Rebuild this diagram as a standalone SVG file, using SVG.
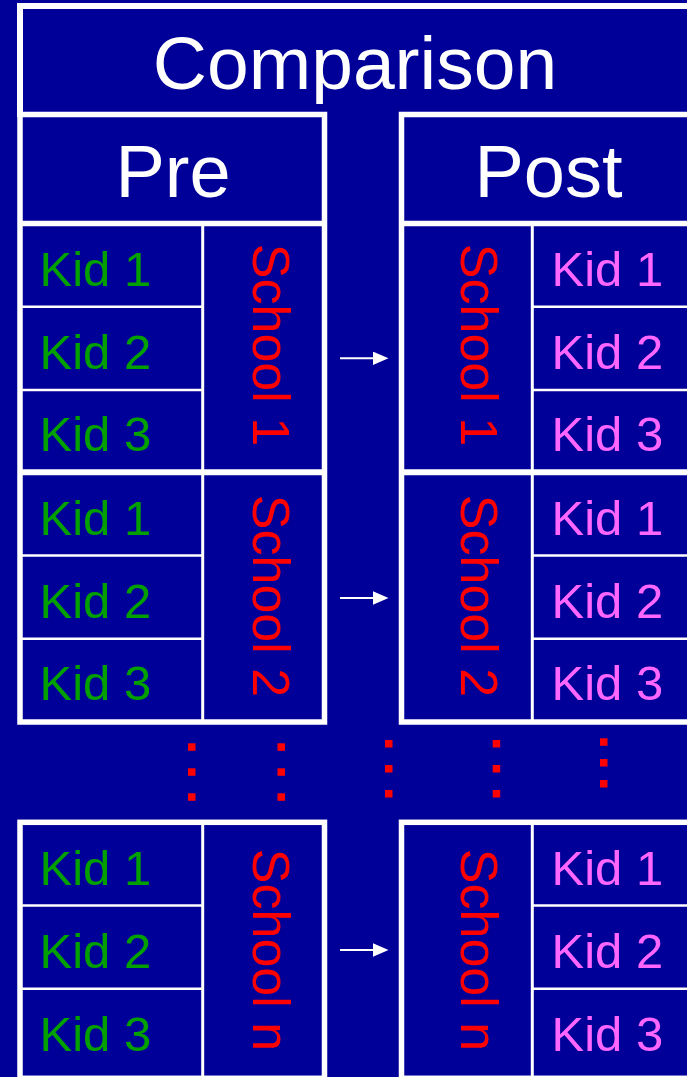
<svg xmlns="http://www.w3.org/2000/svg" width="687" height="1077" viewBox="0 0 687 1077">
<style>
.ln{stroke:#fff;fill:none}
.thick{stroke-width:5.5}
.thin{stroke-width:2.5}
.div{stroke-width:3}
.sep{stroke-width:6}
.hdr{font-family:"Liberation Sans",Arial,sans-serif;fill:#fff;text-anchor:middle}
.kg{font-family:"Liberation Sans",Arial,sans-serif;font-size:49px;fill:#00A000}
.kp{font-family:"Liberation Sans",Arial,sans-serif;font-size:49px;fill:#FF66FF}
.sc{font-family:"Liberation Sans",Arial,sans-serif;font-size:52px;fill:#FF0000;text-anchor:middle}
.dot{fill:#FF0000}
.arr{stroke:#fff;stroke-width:2;fill:none}
</style>
<defs>
<marker id="ah" markerUnits="userSpaceOnUse" markerWidth="16" markerHeight="14" refX="0" refY="6.7" orient="auto">
<path d="M0,0 L15.5,6.7 L0,13.4 z" fill="#fff"/>
</marker>
</defs>
<rect x="0" y="0" width="687" height="1077" fill="#000099"/>

<g id="comparison">
<path class="ln" stroke-width="6" d="M20,117 V6 H700"/>
<text class="hdr" x="355" y="89" font-size="75">Comparison</text>
</g>

<g id="pre">
<rect class="ln thick" x="20" y="114.5" width="304.5" height="607.5"/>
<line class="ln thick" x1="20" y1="223.5" x2="324.5" y2="223.5"/>
<text class="hdr" x="173" y="197" font-size="74">Pre</text>
<line class="ln div" x1="202.7" y1="223.5" x2="202.7" y2="722"/>
<line class="ln sep" x1="20" y1="472.3" x2="324.5" y2="472.3"/>
</g>

<g id="pre-school1">
<line class="ln thin" x1="20" y1="306.7" x2="202.7" y2="306.7"/>
<line class="ln thin" x1="20" y1="390" x2="202.7" y2="390"/>
<text class="kg" x="39.5" y="286">Kid 1</text>
<text class="kg" x="39.5" y="369">Kid 2</text>
<text class="kg" x="39.5" y="451">Kid 3</text>
<text class="sc" transform="translate(253,345) rotate(90)">School 1</text>
</g>

<g id="pre-school2">
<line class="ln thin" x1="20" y1="555.5" x2="202.7" y2="555.5"/>
<line class="ln thin" x1="20" y1="638.8" x2="202.7" y2="638.8"/>
<text class="kg" x="39.5" y="535">Kid 1</text>
<text class="kg" x="39.5" y="618">Kid 2</text>
<text class="kg" x="39.5" y="700">Kid 3</text>
<text class="sc" transform="translate(253,596) rotate(90)">School 2</text>
</g>

<g id="post">
<rect class="ln thick" x="401.5" y="114.5" width="400" height="607.5"/>
<line class="ln thick" x1="401.5" y1="223.5" x2="700" y2="223.5"/>
<text class="hdr" x="548.5" y="197" font-size="74">Post</text>
<line class="ln div" x1="532.3" y1="223.5" x2="532.3" y2="722"/>
<line class="ln sep" x1="401.5" y1="472.3" x2="700" y2="472.3"/>
</g>

<g id="post-school1">
<line class="ln thin" x1="532.3" y1="306.7" x2="700" y2="306.7"/>
<line class="ln thin" x1="532.3" y1="390" x2="700" y2="390"/>
<text class="kp" x="551.5" y="286">Kid 1</text>
<text class="kp" x="551.5" y="369">Kid 2</text>
<text class="kp" x="551.5" y="451">Kid 3</text>
<text class="sc" transform="translate(460.5,345) rotate(90)">School 1</text>
</g>

<g id="post-school2">
<line class="ln thin" x1="532.3" y1="555.5" x2="700" y2="555.5"/>
<line class="ln thin" x1="532.3" y1="638.8" x2="700" y2="638.8"/>
<text class="kp" x="551.5" y="535">Kid 1</text>
<text class="kp" x="551.5" y="618">Kid 2</text>
<text class="kp" x="551.5" y="700">Kid 3</text>
<text class="sc" transform="translate(460.5,596) rotate(90)">School 2</text>
</g>

<g id="pre-schooln">
<rect class="ln thick" x="20" y="822.3" width="304.5" height="256"/>
<line class="ln div" x1="202.7" y1="822.3" x2="202.7" y2="1078"/>
<line class="ln thin" x1="20" y1="905.5" x2="202.7" y2="905.5"/>
<line class="ln thin" x1="20" y1="988.8" x2="202.7" y2="988.8"/>
<text class="kg" x="39.5" y="884.5">Kid 1</text>
<text class="kg" x="39.5" y="967.5">Kid 2</text>
<text class="kg" x="39.5" y="1050.5">Kid 3</text>
<text class="sc" transform="translate(253,950) rotate(90)">School n</text>
</g>

<g id="post-schooln">
<rect class="ln thick" x="401.5" y="822.3" width="400" height="256"/>
<line class="ln div" x1="532.3" y1="822.3" x2="532.3" y2="1078"/>
<line class="ln thin" x1="532.3" y1="905.5" x2="700" y2="905.5"/>
<line class="ln thin" x1="532.3" y1="988.8" x2="700" y2="988.8"/>
<text class="kp" x="551.5" y="884.5">Kid 1</text>
<text class="kp" x="551.5" y="967.5">Kid 2</text>
<text class="kp" x="551.5" y="1050.5">Kid 3</text>
<text class="sc" transform="translate(460.5,950) rotate(90)">School n</text>
</g>

<g id="ellipsis">
<rect class="dot" x="188" y="743.3" width="7.5" height="7.5"/>
<rect class="dot" x="188" y="768.3" width="7.5" height="7.5"/>
<rect class="dot" x="188" y="793.3" width="7.5" height="7.5"/>
<rect class="dot" x="277.5" y="743.3" width="7.5" height="7.5"/>
<rect class="dot" x="277.5" y="768.3" width="7.5" height="7.5"/>
<rect class="dot" x="277.5" y="793.3" width="7.5" height="7.5"/>
<rect class="dot" x="385" y="740" width="7.5" height="7.5"/>
<rect class="dot" x="385" y="765" width="7.5" height="7.5"/>
<rect class="dot" x="385" y="790" width="7.5" height="7.5"/>
<rect class="dot" x="492.7" y="740" width="7.5" height="7.5"/>
<rect class="dot" x="492.7" y="765" width="7.5" height="7.5"/>
<rect class="dot" x="492.7" y="790" width="7.5" height="7.5"/>
<rect class="dot" x="600" y="738.3" width="7.5" height="7.5"/>
<rect class="dot" x="600" y="759" width="7.5" height="7.5"/>
<rect class="dot" x="600" y="780" width="7.5" height="7.5"/>
</g>

<g id="connectors">
<line class="arr" x1="340" y1="358.3" x2="373" y2="358.3" marker-end="url(#ah)"/>
<line class="arr" x1="340" y1="598" x2="373" y2="598" marker-end="url(#ah)"/>
<line class="arr" x1="340" y1="950" x2="373" y2="950" marker-end="url(#ah)"/>
</g>
</svg>
